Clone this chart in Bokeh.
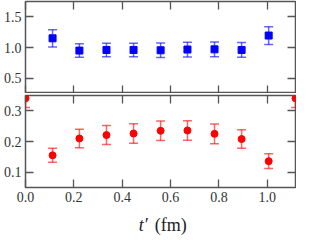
from bokeh.plotting import figure
from bokeh.layouts import column
from bokeh.models import (ColumnDataSource, Whisker, TeeHead, LinearAxis, Range1d,
                          FixedTicker, PrintfTickFormatter)
from bokeh.core.properties import value
from bokeh.embed import file_html
from bokeh.resources import INLINE

# data
t_top = [0.112, 0.223, 0.335, 0.447, 0.559, 0.670, 0.782, 0.894, 1.006]
v_top = [1.15, 0.95, 0.96, 0.96, 0.955, 0.967, 0.97, 0.96, 1.195]
e_top = [0.14, 0.11, 0.11, 0.11, 0.12, 0.12, 0.12, 0.12, 0.145]

t_bot = [0.0, 0.112, 0.223, 0.335, 0.447, 0.559, 0.670, 0.782, 0.894, 1.006, 1.117]
v_bot = [0.341, 0.155, 0.210, 0.221, 0.226, 0.235, 0.236, 0.225, 0.208, 0.136, 0.341]
e_bot = [0.03, 0.023, 0.030, 0.031, 0.032, 0.032, 0.032, 0.032, 0.030, 0.024, 0.03]

x_ticks = [0.0, 0.2, 0.4, 0.6, 0.8, 1.0]
y_ticks_top = [0.5, 1.0, 1.5]
y_ticks_bot = [0.1, 0.2, 0.3]
x_label_var = "t\u2032"
x_label_unit = "(fm)"

FONT = "Liberation Serif"
GREY = "#555555"
FW = 270
XR = Range1d(0, 1.117)


def style_axis(ax, ticks, labels):
    ax.ticker = FixedTicker(ticks=ticks)
    ax.formatter = PrintfTickFormatter(format="%.1f")
    ax.axis_line_color = None
    ax.major_tick_in = 8
    ax.major_tick_out = 0
    ax.major_tick_line_color = GREY
    ax.major_tick_line_width = 1.3
    ax.minor_tick_in = 0
    ax.minor_tick_out = 0
    ax.minor_tick_line_color = None
    ax.major_label_text_font = FONT
    if labels:
        ax.major_label_text_font_size = "14px"
        ax.major_label_text_color = "#333333"
        ax.major_label_standoff = 4
    else:
        ax.major_label_text_font_size = "1px"
        ax.major_label_text_color = None
        ax.major_label_standoff = 0


def make_fig(fh, y0, y1, yticks, show_x, border_top, border_bottom):
    p = figure(frame_width=FW, frame_height=fh, output_backend="svg", toolbar_location=None,
               x_range=XR, y_range=Range1d(y0, y1),
               x_axis_location=None, y_axis_location=None,
               min_border_left=21, min_border_right=1,
               min_border_top=border_top, min_border_bottom=border_bottom)
    p.grid.visible = False
    p.outline_line_color = GREY
    p.outline_line_width = 1.5
    for loc, ticks, lab in (("below", x_ticks, show_x), ("above", x_ticks, False),
                            ("left", yticks, True), ("right", yticks, False)):
        ax = LinearAxis()
        style_axis(ax, ticks, lab)
        p.add_layout(ax, loc)
    return p


def add_errors(p, src, color):
    head = dict(size=9, line_color=color, line_alpha=0.6, line_width=1.5)
    p.add_layout(Whisker(source=src, base="x", lower="lo", upper="hi",
                         line_color=color, line_alpha=0.6, line_width=1.5,
                         upper_head=TeeHead(**head), lower_head=TeeHead(**head)))


p1 = make_fig(92, 0.25, 1.75, y_ticks_top, False, 1, 0)
src1 = ColumnDataSource(dict(x=t_top, y=v_top,
                             lo=[v - e for v, e in zip(v_top, e_top)],
                             hi=[v + e for v, e in zip(v_top, e_top)]))
add_errors(p1, src1, "blue")
p1.scatter("x", "y", source=src1, marker="square", size=7, color="blue")

p2 = make_fig(92, 0.05, 0.35, y_ticks_bot, True, 2, 0)
src2 = ColumnDataSource(dict(x=t_bot, y=v_bot,
                             lo=[v - e for v, e in zip(v_bot, e_bot)],
                             hi=[v + e for v, e in zip(v_bot, e_bot)]))
add_errors(p2, src2, "red")
p2.scatter("x", "y", source=src2, marker="circle", size=7, color="red")

# axis title row
p3 = figure(frame_width=FW, height=36, output_backend="svg", toolbar_location=None,
            x_range=XR, y_range=Range1d(0, 1), x_axis_location=None, y_axis_location=None,
            min_border_left=21, min_border_right=1, min_border_top=0, min_border_bottom=0)
p3.grid.visible = False
p3.outline_line_color = None
p3.text(x=[0.505], y=[0.42], text=[x_label_var], text_font=value(FONT),
        text_font_style="italic", text_font_size="18px", text_align="right",
        text_baseline="middle", text_color="#222222")
p3.text(x=[0.535], y=[0.42], text=[x_label_unit], text_font=value(FONT),
        text_font_size="18px", text_align="left",
        text_baseline="middle", text_color="#222222")

layout = column(p1, p2, p3, spacing=0)
open("out.html", "w").write(file_html(layout, INLINE))
